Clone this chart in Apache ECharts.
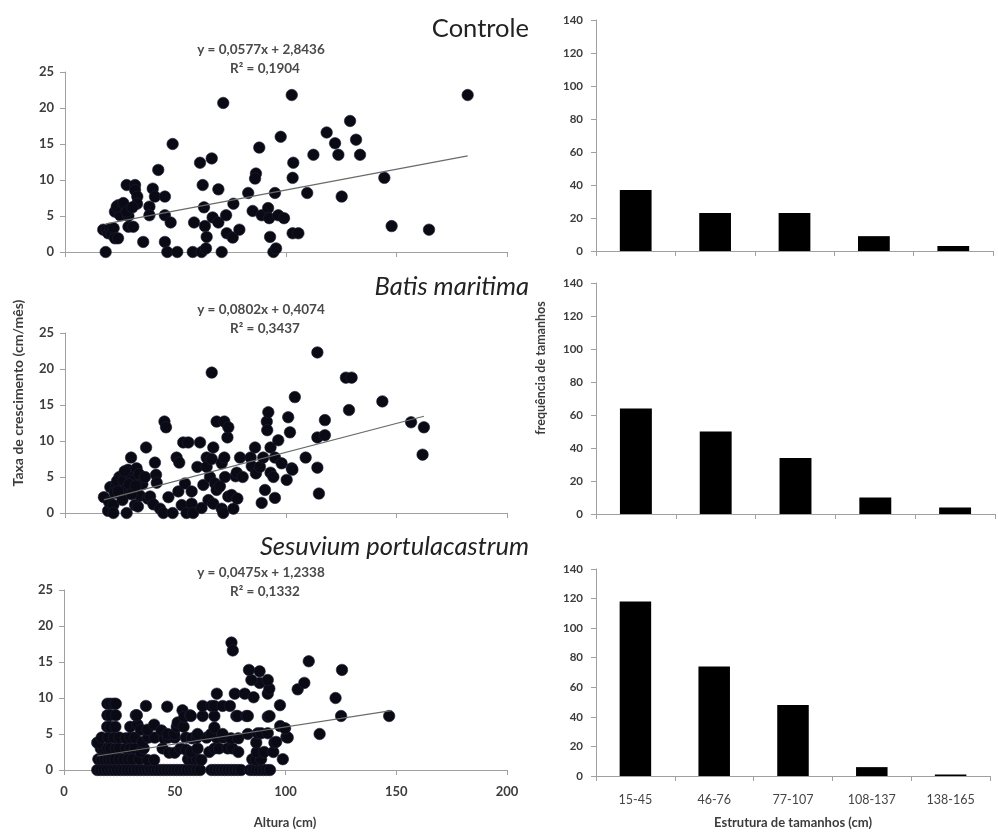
<!DOCTYPE html>
<html><head><meta charset="utf-8">
<script src="https://cdn.jsdelivr.net/npm/echarts@6/dist/echarts.min.js"></script>
<style>html,body{margin:0;padding:0;background:#fff}#c{width:998px;height:832px}</style>
</head><body><div id="c"></div>
<script>
// ---------------- DATA ----------------
const sizeClasses = ['15-45', '46-76', '77-107', '108-137', '138-165'];
const freqControle = [37, 23, 23, 9, 3];
const freqBatis = [64, 50, 34, 10, 4];
const freqSesuvium = [118, 74, 48, 6, 1];

const scatterTitles = ['Controle', 'Batis maritima', 'Sesuvium portulacastrum'];
const equations = ['y = 0,0577x + 2,8436', 'y = 0,0802x + 0,4074', 'y = 0,0475x + 1,2338'];
const r2Texts = ['R² = 0,1904', 'R² = 0,3437', 'R² = 0,1332'];
const slopes = [0.0577, 0.0802, 0.0475];
const intercepts = [2.8436, 0.4074, 1.2338];
const trendXRange = [[18.4, 182.2], [17.6, 162.4], [15, 147.8]];

const controlePts = [
 [18.4,0],[17.3,3.1],[18.9,3.0],[19.5,2.6],[20.5,3.2],[21.0,2.5],[22.0,3.3],[22.6,1.9],[24.0,1.9],
 [22.6,5.6],[24.1,6.5],[24.9,5.1],[23.4,6.3],[26.4,6.8],[27.9,9.3],[28.7,5.0],[28.7,3.5],[27.9,5.6],
 [30.9,3.5],[31.7,9.3],[31.7,8.6],[32.7,7.7],[32.6,6.7],[30.5,6.2],[35.4,1.4],[38.2,6.3],[38.2,5.1],
 [39.7,8.8],[40.7,7.7],[42.2,11.4],[45.2,7.7],[45.2,5.1],[45.2,1.4],[46.3,0],[47.8,4.1],[48.7,15.0],
 [50.8,0],[57.8,0],[58.4,4.1],[61.1,12.4],[61.8,0],[62.3,9.3],[62.9,6.2],[63.3,3.6],[63.8,0.5],
 [64.1,2.1],[66.4,13.0],[66.8,4.8],[69.4,4.1],[69.4,8.7],[70.9,0],[71.6,20.7],[72.9,5.1],[73.2,2.6],
 [75.9,2.0],[76.2,6.7],[78.9,3.1],[82.9,8.2],[84.9,5.7],[86.4,10.9],[86.0,10.2],[87.9,14.5],[89.0,5.1],
 [91.9,6.1],[92.4,4.7],[92.8,2.1],[94.3,0],[95.5,0.5],[95.0,8.2],[96.5,5.1],[97.6,16.0],[99.1,4.7],
 [102.6,21.8],[103.3,12.4],[103.0,10.3],[103.0,2.6],[105.6,2.6],[109.6,8.2],[112.4,13.5],[118.4,16.6],
 [122.2,15.1],[123.7,13.5],[125.2,7.7],[129.0,18.2],[131.7,15.6],[133.5,13.5],[144.5,10.3],[147.8,3.6],
 [164.7,3.1],[182.2,21.8]
];

const batisPts = [
 [17.6,2.2],[19.5,0.3],[20.0,1.5],[20.5,3.6],[21.9,1.1],[21.9,0],[23.1,3.7],[24.6,5.0],[23.5,4.4],
 [25.5,2.5],[26.5,4.5],[27.9,0],[27.6,3.3],[28.5,6.0],[29.9,7.7],[30.2,5.0],[30.9,3.3],[31.5,4.6],
 [31.7,1.1],[32.4,6.2],[33.5,5.4],[34.0,2.4],[35.0,4.0],[36.2,5.0],[36.7,9.1],[37.5,2.0],[38.5,2.3],
 [40.0,1.2],[40.7,7.0],[41.2,5.3],[41.5,4.2],[43.0,0.6],[44.5,0],[45.0,12.7],[45.7,11.9],[46.8,2.2],
 [48.7,0],[50.5,7.7],[51.3,3.0],[51.7,7.0],[52.8,1.1],[53.5,9.8],[54.3,4.1],[55.0,0],[55.8,9.8],
 [57.3,3.0],[57.3,1.3],[58.0,0],[59.9,6.4],[61.1,9.8],[61.8,0.7],[62.6,3.9],[64.1,7.7],[64.1,6.4],
 [64.9,1.8],[65.6,5.0],[66.4,19.5],[66.4,7.5],[67.1,9.1],[67.1,1.3],[67.9,4.1],[68.6,12.7],[68.6,3.2],
 [70.1,3.7],[70.9,6.9],[70.9,0.6],[71.6,0],[72.1,12.7],[72.1,7.7],[72.4,5.0],[73.5,10.5],[73.9,11.9],
 [73.9,2.3],[75.4,2.5],[76.2,0.6],[77.2,5.1],[77.7,5.6],[78.0,2.0],[79.2,7.7],[80.4,5.0],[84.0,7.7],
 [84.5,6.5],[86.0,9.1],[86.4,5.5],[88.2,6.4],[89.0,1.4],[89.7,7.7],[90.5,3.2],[91.3,12.7],[91.5,11.5],
 [92.0,14.0],[93.0,9.1],[93.0,5.6],[94.3,5.0],[95.0,7.7],[95.0,2.1],[96.5,10.1],[98.0,6.9],[100.3,4.6],
 [101.0,13.3],[101.8,11.2],[102.6,6.2],[102.9,6.0],[104.0,16.1],[108.9,7.7],[114.2,22.3],[114.2,10.5],
 [114.2,6.3],[114.9,2.7],[117.6,12.9],[117.6,10.8],[127.1,18.8],[128.5,14.3],[129.7,18.8],[143.6,15.5],
 [156.6,12.6],[161.8,8.1],[162.4,11.9],
 [22.5,2.8],[24.0,3.0],[26.0,1.8],[27.0,5.8],[29.0,4.0],[30.0,2.6],[32.0,3.8],[33.0,0.9]
];

const sesuviumPts = [
 // y = 0 row
 [15,0],[16.5,0],[18,0],[19.5,0],[21,0],[22.5,0],[24,0],[25.5,0],[27,0],[28.5,0],[30,0],[31.5,0],[33,0],
 [34.5,0],[36,0],[37.5,0],[39,0],[40.5,0],[42,0],[43.5,0],[45,0],[46.5,0],[48,0],[49.5,0],[51,0],
 [52.5,0],[54,0],[55.5,0],[57,0],[58.5,0],[60,0],[61.5,0],[66.5,0],[68,0],[69.5,0],[71,0],[72.5,0],
 [74,0],[75.5,0],[77,0],[78.5,0],[80,0],[84,0],[85.5,0],[87,0],[88.5,0],[90,0],[91.5,0],[93,0],
 // ~1.5 row
 [15.5,1.5],[17,1.5],[18.5,1.5],[20,1.5],[21.5,1.5],[23,1.5],[25,1.5],[27,1.5],[29,1.5],[31,1.5],
 [34,1.5],[37.7,1.4],[40.7,1.4],[56,1.5],[58,1.5],[60,1.5],[62,1.4],[85,1.5],[86.7,1.4],[89,1.5],[98.8,1.5],
 // ~3 row
 [15,3.8],[16.6,3],[18,3],[19.6,3],[21,3],[23.4,3],[25,3],[27.9,3],[30,3],[32,3],[34.7,2.5],[36,3],
 [44.5,3],[47.5,2.4],[50,2.4],[52.6,3],[55.2,2.8],[57.3,2.5],[60.3,3],[65.6,2.5],[68,3],[70,3],[73.9,3],
 [76,3],[78.7,2.5],[87,2.5],[90.4,2.5],[94.5,2.5],
 // ~4.5 row
 [15.5,3.8],[17,4.5],[20,4.5],[22.6,4.5],[25,4.5],[27.9,4.4],[30,4.5],[32,4.5],[35.4,3.9],[38,4.5],
 [41,4.5],[45.2,4.4],[47,4.5],[50,4.5],[55,4.5],[57.7,4.4],[60,4.5],[64.4,4.5],[68.9,4.5],[71.9,4.5],
 [75.4,4.4],[78.7,4.4],[83,5],[86.8,3.8],[87.5,5.1],[89,5.1],[92,5.1],[95,3.8],[95.8,3.9],[100.4,4.6],
 [101,4.5],[115.4,5],
 // ~6 row
 [19.5,6],[21,6],[23.2,6],[29.9,6],[33.2,6.3],[34.7,5.6],[37.7,5.6],[40.7,6.3],[44,5.5],[46.8,5],
 [49.8,5],[50.9,6],[51.3,6.6],[54,6],[60.3,5],[66.4,5],[67.9,5.9],[71.6,5],[97.6,6.1],[99.8,5.8],
 // ~7.5 row
 [19.6,7.6],[21,7.6],[23.4,7.6],[32.4,7.6],[32.9,7.6],[53.5,8.3],[54.3,7.4],[56.9,7.6],[57.3,7.5],
 [62.6,7.5],[67.9,7.5],[77.8,7.5],[78.4,7.5],[82.3,7.5],[83,7.5],[92,7.4],[92.8,7.5],[125.1,7.5],[146.8,7.5],
 // ~9 row
 [19.6,9.2],[21,9.2],[22.5,9.2],[23.4,9.2],[37,8.9],[46.6,8.8],[62.6,8.9],[66.6,8.9],[67.9,8.9],
 [71.6,8.9],[74.9,8.9],[97.5,9],
 // higher points
 [69,10.6],[77.1,10.6],[81.6,10.6],[85.6,10.1],[92,10.6],[92.7,11.3],[88.3,12.1],[92,12.5],[84.6,12.5],
 [83.5,13.9],[88.3,13.7],[75.6,17.7],[76.2,16.6],[105.5,11.2],[108.5,12.1],[110.5,15.1],[122.6,10],[125.5,13.9]
];

const scatterSets = [controlePts, batisPts, sesuviumPts];
const freqSets = [freqControle, freqBatis, freqSesuvium];

// ---------------- LAYOUT / STYLE ----------------
const AX = '#a0a0a0';
const TXT = '#3c3c3c';
const FONT = 'Lato, "Open Sans", sans-serif';
const scatterGrids = [
  {left: 65, top: 72, width: 442, height: 180},
  {left: 65, top: 333, width: 442, height: 180},
  {left: 64, top: 590, width: 443, height: 180}
];
const barGrids = [
  {left: 596, top: 20, width: 397, height: 231},
  {left: 596, top: 283, width: 399, height: 231},
  {left: 596, top: 569, width: 394, height: 207}
];

const grid = [], xAxis = [], yAxis = [], series = [];
for (let i = 0; i < 3; i++) {
  grid.push(Object.assign({containLabel: false}, scatterGrids[i]));
  xAxis.push({
    type: 'value', gridIndex: i, min: 0, max: 200, interval: 50,
    axisLine: {show: true, onZero: false, lineStyle: {color: AX, width: 1}},
    axisTick: {show: true, length: 5, lineStyle: {color: AX}},
    axisLabel: {show: i === 2, color: TXT, fontFamily: FONT, fontWeight: 'bold', fontSize: 13, margin: 15},
    splitLine: {show: false}
  });
  yAxis.push({
    type: 'value', gridIndex: i, min: 0, max: 25, interval: 5,
    axisLine: {show: true, lineStyle: {color: AX, width: 1}},
    axisTick: {show: true, length: 5, lineStyle: {color: AX}},
    axisLabel: {color: TXT, fontFamily: FONT, fontWeight: 'bold', fontSize: 13, margin: 11},
    splitLine: {show: false}
  });
  series.push({
    type: 'scatter', xAxisIndex: i, yAxisIndex: i, data: scatterSets[i],
    symbol: 'circle', symbolSize: 11.5, z: 2,
    itemStyle: {color: '#0a0a14', borderColor: '#1c2038', borderWidth: 0.6, opacity: 1},
    emphasis: {disabled: true}
  });
  const xr = trendXRange[i];
  series.push({
    type: 'line', xAxisIndex: i, yAxisIndex: i, z: 3,
    data: xr.map(x => [x, slopes[i] * x + intercepts[i]]),
    symbol: 'none', lineStyle: {color: '#6a6a6a', width: 1.2}, silent: true
  });
}
for (let i = 0; i < 3; i++) {
  const gi = 3 + i;
  grid.push(Object.assign({containLabel: false}, barGrids[i]));
  xAxis.push({
    type: 'category', gridIndex: gi, data: sizeClasses, boundaryGap: true,
    axisLine: {show: true, lineStyle: {color: AX, width: 1}},
    axisTick: {show: true, alignWithLabel: false, length: 5, lineStyle: {color: AX}},
    axisLabel: {show: i === 2, color: '#444', fontFamily: FONT, fontSize: 12.5, margin: 17},
    splitLine: {show: false}
  });
  yAxis.push({
    type: 'value', gridIndex: gi, min: 0, max: 140, interval: 20,
    axisLine: {show: true, lineStyle: {color: AX, width: 1}},
    axisTick: {show: true, length: 5, lineStyle: {color: AX}},
    axisLabel: {color: TXT, fontFamily: FONT, fontWeight: 'bold', fontSize: 11.5, margin: 13},
    splitLine: {show: false}
  });
  series.push({
    type: 'bar', xAxisIndex: gi, yAxisIndex: gi, data: freqSets[i], barWidth: '40%',
    itemStyle: {color: '#000'}, silent: true
  });
}

function txt(x, y, s, o) {
  return {type: 'text', x: x, y: y, rotation: (o && o.rot) || 0, silent: true,
    style: Object.assign({text: s, fill: TXT, font: '12px ' + FONT, textAlign: 'center', textVerticalAlign: 'middle'}, o && o.style)};
}
const titleY = [29, 287, 547];
const eqY = [50, 310, 573];
const r2Y = [69, 329, 592];
const graphic = [];
for (let i = 0; i < 3; i++) {
  graphic.push(txt(529, titleY[i], scatterTitles[i], {style: {textAlign: 'right', fill: '#222',
    font: (i === 0 ? 'normal' : 'italic') + ' 25.5px ' + FONT}}));
  graphic.push(txt(261, eqY[i], equations[i], {style: {font: 'bold 13.5px ' + FONT, fill: '#4a4a4a'}}));
  graphic.push(txt(265, r2Y[i], r2Texts[i], {style: {font: 'bold 13.5px ' + FONT, fill: '#4a4a4a'}}));
}
graphic.push(txt(18, 393, 'Taxa de crescimento (cm/mês)', {rot: Math.PI / 2, style: {font: 'bold 14px ' + FONT}}));
graphic.push(txt(541, 368, 'frequência de tamanhos', {rot: Math.PI / 2, style: {font: 'bold 12.5px ' + FONT}}));
graphic.push(txt(285, 823, 'Altura (cm)', {style: {font: 'bold 13px ' + FONT}}));
graphic.push(txt(793, 823, 'Estrutura de tamanhos (cm)', {style: {font: 'bold 13px ' + FONT}}));

const chart = echarts.init(document.getElementById('c'), null, {renderer: 'canvas'});
chart.setOption({
  animation: false,
  backgroundColor: '#fff',
  grid: grid, xAxis: xAxis, yAxis: yAxis, series: series, graphic: graphic
});
</script></body></html>
